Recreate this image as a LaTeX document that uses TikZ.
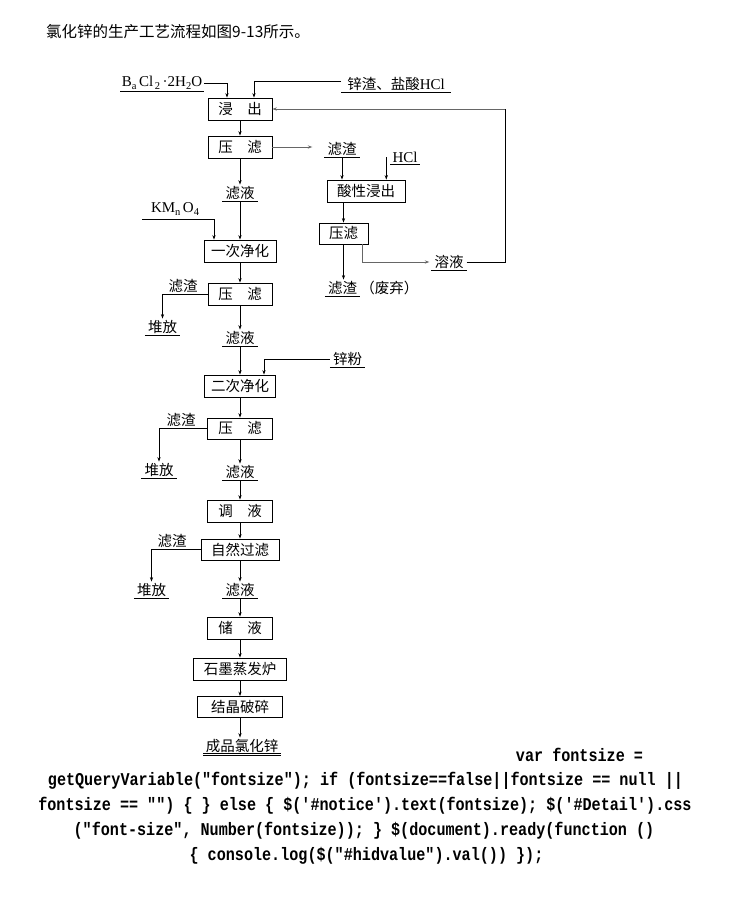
\documentclass[tikz,border=0pt]{standalone}
\usepackage{fontspec}
\setmainfont{Liberation Serif}
\newfontfamily\cjk{Noto Sans CJK SC}
\newfontfamily\codefont[FakeStretch=0.84]{Liberation Mono}
\usetikzlibrary{arrows.meta,positioning}
\newcommand{\lowr}[1]{\raisebox{-2.5pt}{\fontsize{10.5}{10.5}\selectfont #1}}
\tikzset{
  procbox/.style={draw,line width=0.75pt,minimum height=22pt,inner sep=0pt,font=\cjk\fontsize{14.5}{15}\selectfont},
  tag/.style={inner xsep=3pt,inner ysep=1.5pt,font=\cjk\fontsize{14.5}{15}\selectfont},
  ulabel/.style={tag,append after command={(\tikzlastnode.south west) edge[line width=0.75pt] (\tikzlastnode.south east)}},
  arr/.style={-{Stealth[length=4.5pt,width=3.2pt]},line width=0.7pt},
  greyarr/.style={arr,draw=black!60},
  codeline/.style={anchor=base,inner sep=0pt,font=\codefont\bfseries\fontsize{18}{18}\selectfont}
}
\begin{document}
\begin{tikzpicture}[x=1pt,y=-1pt]
  \fill[white] (0,0) rectangle (730,907);
  \useasboundingbox (0,0) rectangle (730,907);
  \node[anchor=west,inner sep=0pt,font=\cjk\fontsize{15.5}{16}\selectfont] (title) at (46,32) {氯化锌的生产工艺流程如图9-13所示。};

  % main column
  \node[procbox,minimum width=64pt] (leach) at (240,109) {浸\hspace{1em}出};
  \node[procbox,minimum width=64pt] (press1) at (240,147) {压\hspace{1em}滤};
  \node[ulabel] (filt1) at (240,193) {滤液};
  \node[procbox,minimum width=72pt] (purify1) at (240,251) {一次净化};
  \node[procbox,minimum width=64pt] (press2) at (240,294) {压\hspace{1em}滤};
  \node[ulabel] (filt2) at (240,338) {滤液};
  \node[procbox,minimum width=71pt] (purify2) at (240,386) {二次净化};
  \node[procbox,minimum width=65pt,minimum height=21pt] (press3) at (240,428.5) {压\hspace{1em}滤};
  \node[ulabel] (filt3) at (240,472) {滤液};
  \node[procbox,minimum width=65pt] (adjust) at (240,511) {调\hspace{1em}液};
  \node[procbox,minimum width=78pt,minimum height=21pt] (natfilt) at (240,549.5) {自然过滤};
  \node[ulabel] (filt4) at (240,590) {滤液};
  \node[procbox,minimum width=65pt] (store) at (240,628) {储\hspace{1em}液};
  \node[procbox,minimum width=93pt] (evap) at (240,669) {石墨蒸发炉};
  \node[procbox,minimum width=85pt,minimum height=21pt] (crystal) at (240,707) {结晶破碎};
  \node[tag,inner xsep=2.5pt] (product) at (242,746) {成品氯化锌};

  % feeds
  \node[ulabel,font=\rmfamily\fontsize{15}{15}\selectfont,inner xsep=1.5pt] (bacl) at (162,83) {B\lowr{a}\,Cl\lowr{\,2}\,·2H\lowr{2}O};
  \node[ulabel,inner xsep=6pt] (slag) at (396,84) {锌渣、盐酸{\rmfamily\fontsize{15}{15}\selectfont HCl}};
  \node[tag,font=\rmfamily\fontsize{15}{15}\selectfont] (kmno4) at (175,209) {KM\lowr{n}\,O\lowr{4}};
  \coordinate (kmin) at (142,219);
  \node[ulabel] (powder) at (347.5,359) {锌粉};

  % acid branch
  \node[ulabel] (resid1) at (342,149) {滤渣};
  \node[ulabel,font=\rmfamily\fontsize{15}{15}\selectfont,inner xsep=2pt] (hcl) at (405,157) {HCl};
  \node[procbox,minimum width=78pt] (acid) at (366,191) {酸性浸出};
  \node[procbox,minimum width=49pt,minimum height=21pt] (press4) at (343.5,233.5) {压滤};
  \node[ulabel] (waste) at (342.5,288) {滤渣};
  \node[tag,inner xsep=0pt,right=0pt of waste] (wastenote) {（废弃）};
  \node[ulabel] (soln) at (449,262) {溶液};
  \coordinate (loop) at (505,109);

  % side residues
  \node[tag] (resid2) at (183,286) {滤渣};
  \node[ulabel] (pile1) at (162.5,327) {堆放};
  \node[tag] (resid3) at (181,420) {滤渣};
  \node[ulabel] (pile2) at (159,470) {堆放};
  \node[tag] (resid4) at (172,541) {滤渣};
  \node[ulabel] (pile3) at (151.5,590) {堆放};

  \draw[arr] (bacl.east) -| ([xshift=-13pt]leach.north);
  \draw[arr] ([yshift=3pt]slag.west) -| ([xshift=14pt]leach.north);
  \draw[arr] (leach) -- (press1);
  \draw[arr] (press1) -- (filt1);
  \draw[arr] (filt1) -- (purify1);
  \draw[arr] (purify1) -- (press2);
  \draw[arr] (press2) -- (filt2);
  \draw[arr] (filt2) -- (purify2);
  \draw[arr] (purify2) -- (press3);
  \draw[arr] (press3) -- (filt3);
  \draw[arr] (filt3) -- (adjust);
  \draw[arr] (adjust) -- (natfilt);
  \draw[arr] (natfilt) -- (filt4);
  \draw[arr] (filt4) -- (store);
  \draw[arr] (store) -- (evap);
  \draw[arr] (evap) -- (crystal);
  \draw[arr] (crystal.south) -- (crystal.south |- product.north);
  \draw[double,double distance=1.2pt,line width=0.6pt] (product.south west) -- (product.south east);

  \draw[arr] (kmin) -| ([xshift=-26pt]purify1.north);
  \draw[arr] (powder.west) -| ([xshift=24pt]purify2.north);
  \draw[arr] (press2) -| (pile1);
  \draw[arr] (press3) -| (pile2);
  \draw[arr] (natfilt) -| (pile3);

  \draw[greyarr,line width=0.9pt,shorten >=12pt] (press1.east) -- (press1.east -| resid1.west);
  \draw[arr] (resid1) -- (resid1 |- acid.north);
  \coordinate (hcltop) at ([xshift=-4pt]hcl.west);
  \draw[arr] (hcltop) -- (hcltop |- acid.north);
  \draw[arr] (press4.north |- acid.south) -- (press4);
  \draw[arr] (press4.south) -- (press4.south |- waste.north);
  \draw[greyarr,shorten >=2pt] ([xshift=-6pt]press4.south east) |- (soln);
  \draw[line width=0.7pt] (soln) -| (loop);
  \draw[greyarr] (loop) -- (leach);

  % page text below
  \node[codeline] (js1) at (579.5,761) {var fontsize =};
  \node[codeline] (js2) at (365.5,785) {getQueryVariable("fontsize"); if (fontsize==false||fontsize == null ||};
  \node[codeline] (js3) at (365,810) {fontsize == "") \{ \} else \{ \$('\#notice').text(fontsize); \$('\#Detail').css};
  \node[codeline] (js4) at (364,835) {("font-size", Number(fontsize)); \} \$(document).ready(function ()};
  \node[codeline] (js5) at (366.5,860) {\{ console.log(\$("\#hidvalue").val()) \});};
\end{tikzpicture}
\end{document}
